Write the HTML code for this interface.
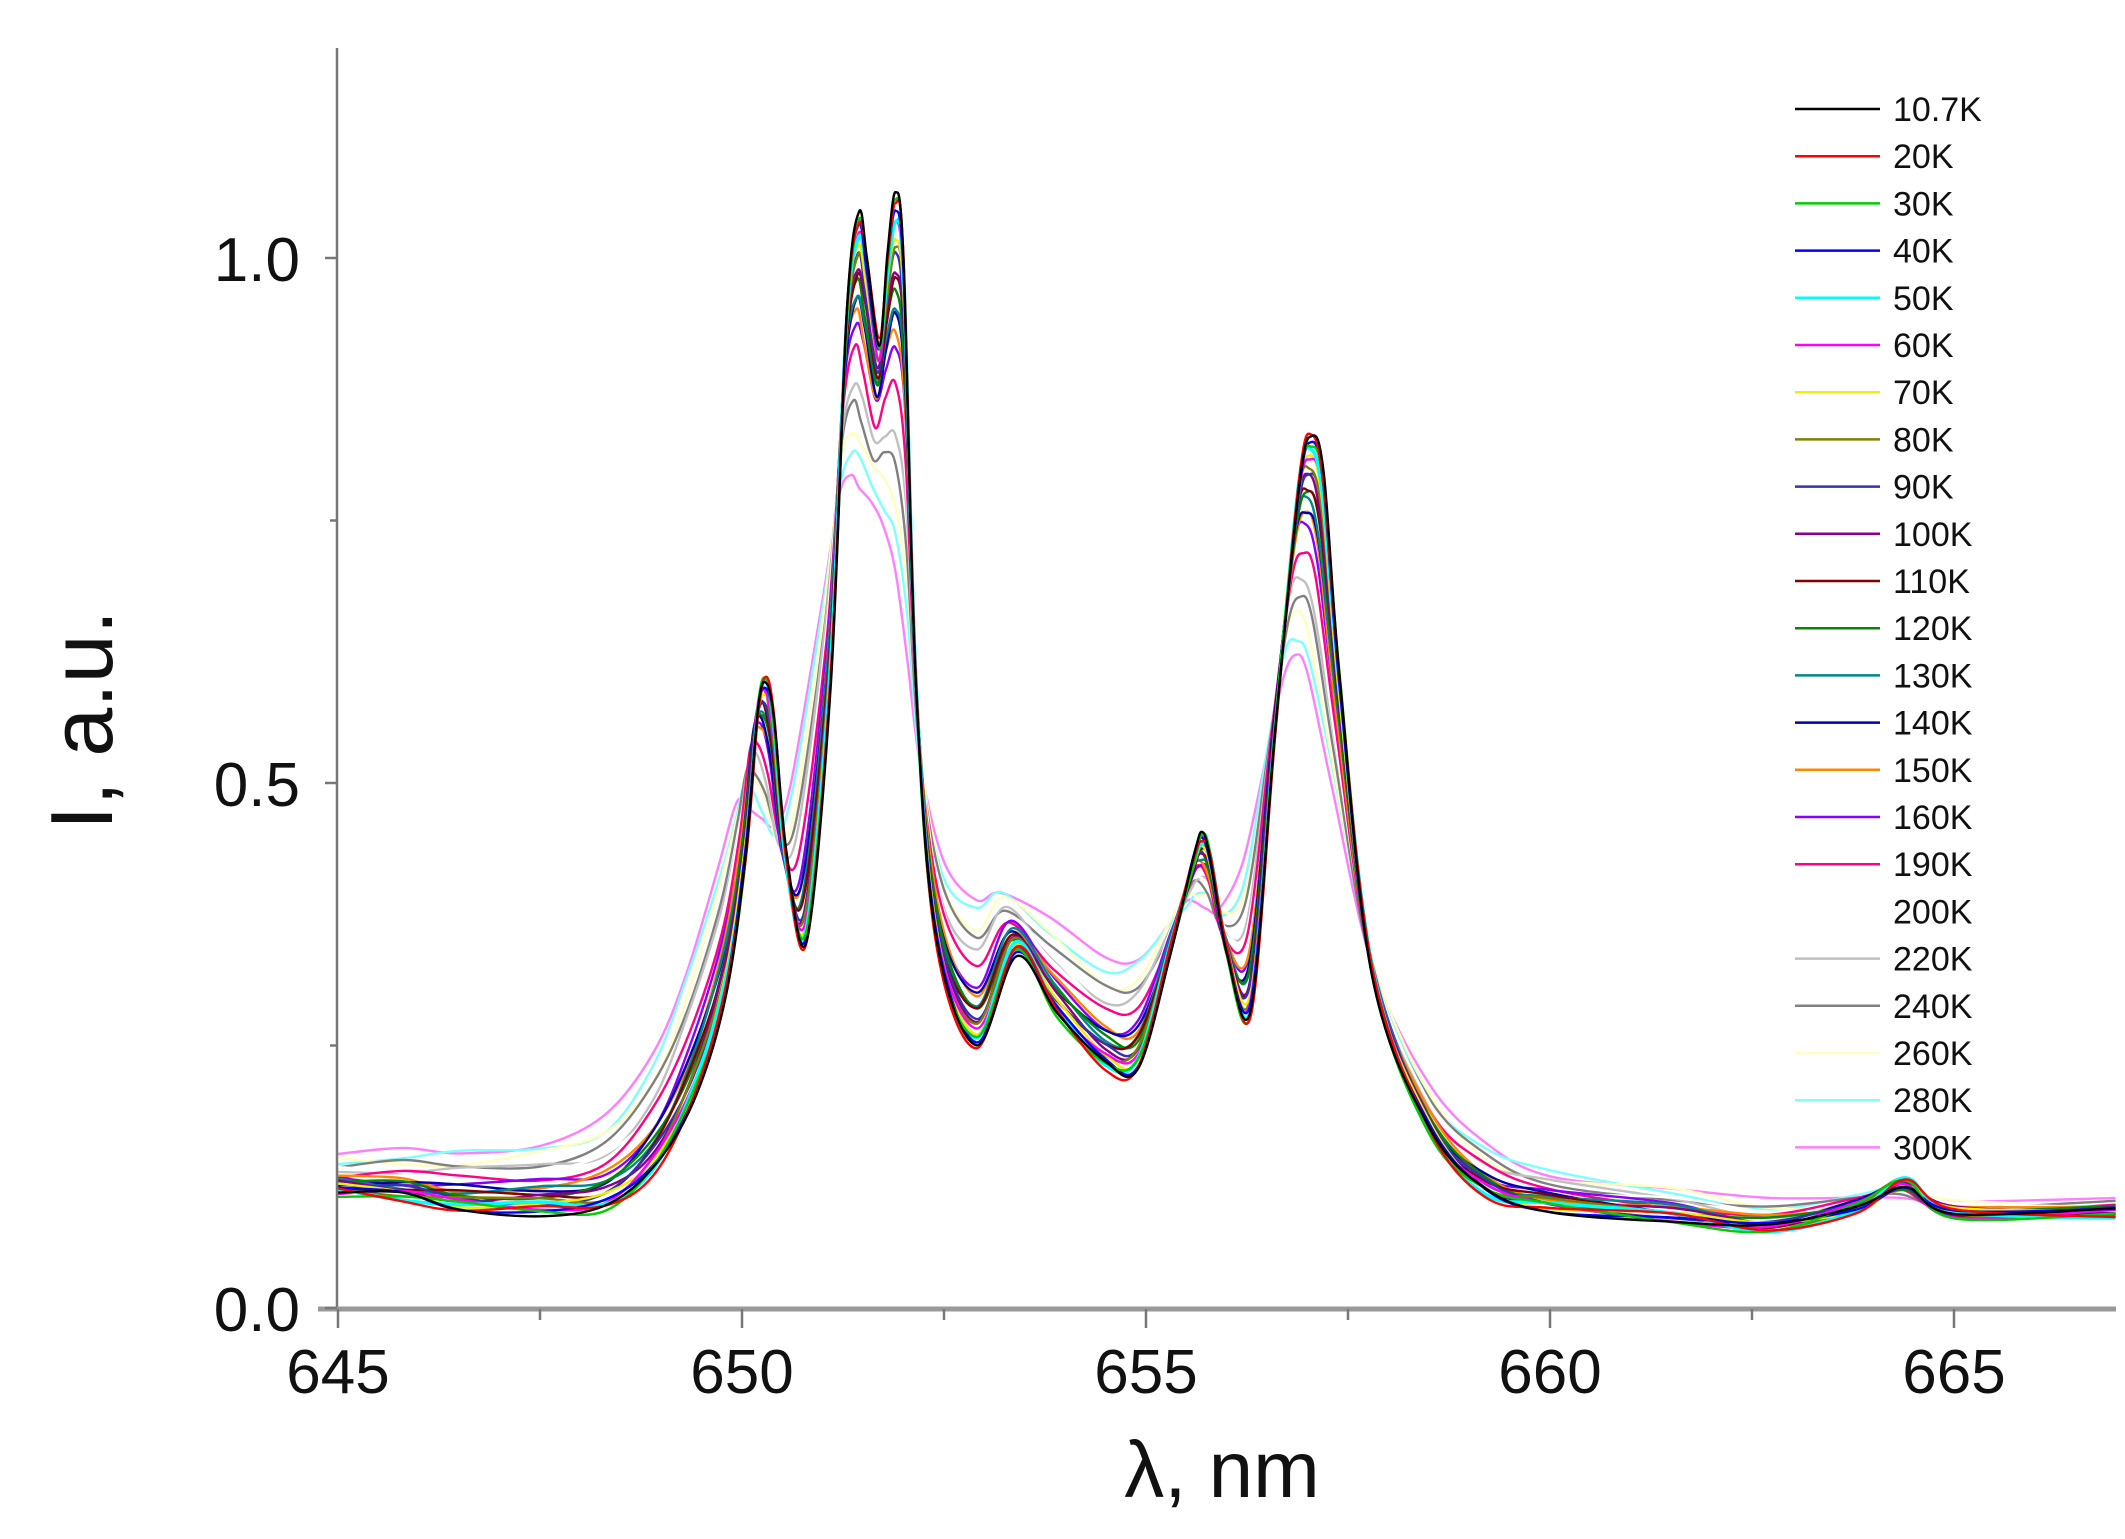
<!DOCTYPE html>
<html><head><meta charset="utf-8"><style>
html,body{margin:0;padding:0;background:#fff}
svg{display:block}
text{font-family:"Liberation Sans",Arial,sans-serif;fill:#111}
</style></head><body>
<svg id="s" width="2125" height="1539" viewBox="0 0 2125 1539" xmlns="http://www.w3.org/2000/svg">
<g id="curves" fill="none" stroke-width="2.4" stroke-linejoin="round"></g>
<line x1="337" y1="48" x2="337" y2="1309" stroke="#777" stroke-width="2.5"/>
<line x1="318" y1="1309" x2="2116" y2="1309" stroke="#999" stroke-width="5"/>
<g id="ticks" stroke="#777" stroke-width="2.5"></g>
<g font-size="62" text-anchor="middle">
<text x="338" y="1393">645</text><text x="742" y="1393">650</text><text x="1146" y="1393">655</text><text x="1550" y="1393">660</text><text x="1954" y="1393">665</text>
</g>
<g font-size="62" text-anchor="end">
<text x="300" y="1331">0.0</text><text x="300" y="806">0.5</text><text x="300" y="281">1.0</text>
</g>
<text x="1222" y="1497" font-size="80" text-anchor="middle">λ, nm</text>
<text transform="translate(112,720) rotate(-90)" font-size="88" text-anchor="middle">I, a.u.</text>
<g id="legend" font-size="34"></g>
</svg>
<script>
var X0=338,XS=80.8,Y0=1308,YS=1050;
function px(x){return X0+(x-645)*XS}
function py(y){return Y0-y*YS}
var ticks=document.getElementById('ticks'),h='';
for(var i=0;i<=8;i++){var x=px(645+2.5*i);h+='<line x1="'+x+'" y1="1309" x2="'+x+'" y2="'+(i%2?1320:1328)+'"/>';}
[0,0.25,0.5,0.75,1.0].forEach(function(v,i){var y=py(v);h+='<line x1="337" y1="'+y+'" x2="'+(i%2?330:325)+'" y2="'+y+'"/>';});
ticks.innerHTML=h;
var P=[[645,.11,645,.145],[645.8,.105,645.8,.148],[646.5,.095,646.5,.15],[647.5,.092,647.5,.158],[648.3,.095,648.3,.18],[648.9,.13,648.9,.24],[649.4,.2,649.3,.32],[649.8,.3,649.7,.42],[650.05,.43,649.9,.47],[650.2,.57,650.0,.485],[650.3,.6,650.1,.48],[650.4,.56,650.25,.465],[650.55,.43,650.4,.455],[650.8,.35,650.6,.5],[651.1,.6,651.0,.68],[651.3,.95,651.2,.77],[651.45,1.04,651.35,.79],[651.55,1.0,651.45,.785],[651.7,.92,651.6,.77],[651.8,1.0,651.75,.74],[651.9,1.06,651.9,.70],[652.0,1.0,652.05,.62],[652.15,.6,652.2,.52],[652.4,.35,652.5,.42],[652.9,.25,652.9,.39],[653.4,.34,653.2,.4],[653.9,.28,653.8,.37],[654.5,.23,654.5,.33],[654.9,.23,654.9,.335],[655.3,.34,655.3,.37],[655.6,.43,655.5,.383],[655.7,.45,655.6,.385],[655.8,.43,655.75,.385],[656.0,.34,655.9,.38],[656.3,.28,656.2,.42],[656.6,.55,656.5,.53],[656.9,.79,656.7,.605],[657.05,.83,656.85,.62],[657.2,.79,657.0,.6],[657.4,.6,657.3,.5],[657.8,.32,657.8,.33],[658.5,.17,658.5,.21],[659.2,.11,659.2,.155],[660,.095,660,.13],[661.5,.085,661.5,.115],[662.7,.075,662.7,.1],[663.8,.095,663.8,.105],[664.4,.12,664.3,.11],[665,.09,665,.1],[667,.09,667,.1]];
var S=[["10.7K",10.7,"#000"],["20K",20,"#f00"],["30K",30,"#0c0"],["40K",40,"#00f"],["50K",50,"#0ff"],["60K",60,"#f0f"],["70K",70,"#ee0"],["80K",80,"#808000"],["90K",90,"#33a"],["100K",100,"#808"],["110K",110,"#800000"],["120K",120,"#080"],["130K",130,"#088"],["140K",140,"#00a"],["150K",150,"#f80"],["160K",160,"#80f"],["190K",190,"#f08"],["200K",200,"#fff"],["220K",220,"#c0c0c0"],["240K",240,"#808080"],["260K",260,"#ffffc0"],["280K",280,"#80ffff"],["300K",300,"#ff80ff"]];
function path(pts){var d='M'+pts[0][0].toFixed(1)+','+pts[0][1].toFixed(1);
for(var i=0;i<pts.length-1;i++){var p0=pts[i-1]||pts[i],p1=pts[i],p2=pts[i+1],p3=pts[i+2]||p2;
var c1x=p1[0]+(p2[0]-p0[0])/6,c1y=p1[1]+(p2[1]-p0[1])/6,c2x=p2[0]-(p3[0]-p1[0])/6,c2y=p2[1]-(p3[1]-p1[1])/6;
d+=' C'+c1x.toFixed(1)+','+c1y.toFixed(1)+' '+c2x.toFixed(1)+','+c2y.toFixed(1)+' '+p2[0].toFixed(1)+','+p2[1].toFixed(1);}return d;}
var g='';
for(var k=S.length-1;k>=0;k--){var t=(S[k][1]-10.7)/289.3,w=Math.pow(t,1.4);
var pts=P.map(function(p,j){var x=p[0]+(p[2]-p[0])*w,y=p[1]+(p[3]-p[1])*w;y+=0.005*Math.sin(j*1.7+k*2.3);return [px(x),py(y)];});
g+='<path d="'+path(pts)+'" stroke="'+S[k][2]+'"'+(k==4?' stroke-width="3.5"':'')+'/>';}
document.getElementById('curves').innerHTML=g;
var L='';S.forEach(function(s,i){var y=109+47.2*i;L+='<line x1="1795" y1="'+y+'" x2="1880" y2="'+y+'" stroke="'+s[2]+'" stroke-width="2.5"/><text x="1893" y="'+(y+12)+'">'+s[0]+'</text>';});
document.getElementById('legend').innerHTML=L;
</script>
</body></html>
